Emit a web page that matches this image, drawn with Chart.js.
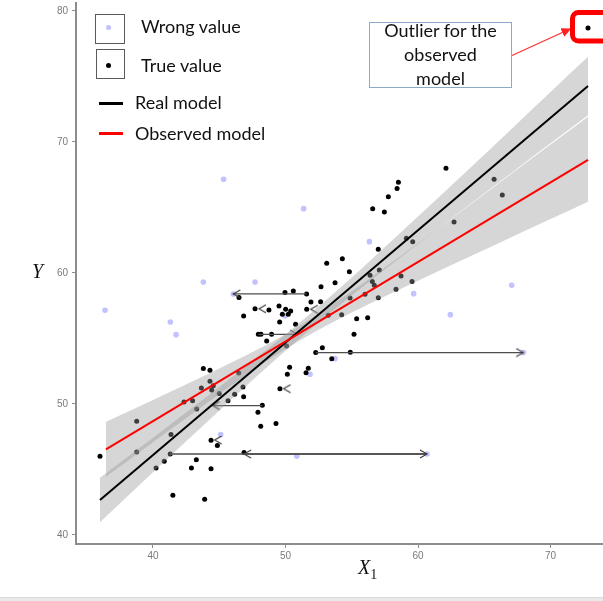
<!DOCTYPE html>
<html>
<head>
<meta charset="utf-8">
<script src="https://cdn.jsdelivr.net/npm/chart.js@4.4.1/dist/chart.umd.min.js"></script>
<style>
  html, body { margin: 0; padding: 0; background: #fff; overflow: hidden; }
  #wrap { position: relative; width: 603px; height: 601px; overflow: hidden; }
  #chart { position: absolute; left: 0; top: 0; }
  .txt { position: absolute; font-family: Lato, sans-serif; font-size: 18px; line-height: 18px; color: #111; white-space: nowrap; }
  .box { position: absolute; box-sizing: border-box; border: 1px solid #5a5a5a; background: #fff; }
  .dot { position: absolute; border-radius: 50%; }
  .swatch { position: absolute; height: 3px; width: 24px; left: 99px; }
  .math { position: absolute; font-family: "Liberation Serif", serif; font-style: italic; font-size: 20px; line-height: 20px; color: #111; }
  #note { position: absolute; left: 369px; top: 22px; width: 143px; height: 66px; box-sizing: border-box; border: 1px solid #8eaacb; background: #fff; }
  #noteText { position: absolute; left: 369px; top: 18px; width: 143px; text-align: center; font-family: Lato, sans-serif; font-size: 18px; line-height: 24px; color: #111; }
  #strip { position: absolute; left: 0; top: 597px; width: 603px; height: 4px; background: #e9e9e9; border-top: 1px solid #dadada; }
</style>
</head>
<body>
<div id="wrap">
  <canvas id="chart" width="603" height="601" style="width:603px;height:601px;"></canvas>

  <!-- legend -->
  <div class="box" style="left:95px;top:14px;width:30px;height:30px;"></div>
  <div class="dot" style="left:106px;top:25px;width:5px;height:5px;background:rgba(110,110,255,0.42);"></div>
  <div class="txt" style="left:141px;top:17px;">Wrong value</div>
  <div class="box" style="left:96px;top:49px;width:29px;height:30px;"></div>
  <div class="dot" style="left:106px;top:63px;width:5px;height:5px;background:#000;"></div>
  <div class="txt" style="left:141px;top:56px;">True value</div>
  <div class="swatch" style="top:102px;background:#000;"></div>
  <div class="txt" style="left:135px;top:93px;">Real model</div>
  <div class="swatch" style="top:132px;background:#ff0000;"></div>
  <div class="txt" style="left:135px;top:124px;">Observed model</div>

  <!-- outlier note -->
  <div id="note"></div>
  <div id="noteText">Outlier for the<br>observed<br>model</div>
  <svg width="603" height="601" style="position:absolute;left:0;top:0;pointer-events:none;">
    <defs>
      <marker id="head" markerWidth="8" markerHeight="8" refX="7" refY="4" orient="auto">
        <path d="M0,0 L8,4 L0,8 z" fill="#ff2020"/>
      </marker>
    </defs>
    <line x1="512" y1="55.5" x2="570" y2="29" stroke="#ff3030" stroke-width="1.2" marker-end="url(#head)"/>
    <rect x="572.5" y="12.5" width="45" height="28.5" rx="6" ry="6" fill="none" stroke="#ff0000" stroke-width="5"/>
  </svg>

  <!-- axis titles -->
  <div class="math" style="left:32px;top:261px;">Y</div>
  <div class="math" style="left:358px;top:557px;">X<span style="font-size:14px;font-style:normal;position:relative;top:5px;">1</span></div>

  <div id="strip"></div>
</div>

<script>
// True values (black points)
const trueX = [36.0, 38.77, 38.77, 40.23, 40.85, 41.36, 41.3, 41.5, 42.34, 42.99,
  43.3, 43.27, 42.9, 43.65, 43.8, 44.3, 44.3, 44.43, 44.55, 45.0,
  44.38, 44.86, 44.38, 43.9, 45.66, 46.79, 46.16, 46.84, 48.25, 47.92,
  48.13, 46.47, 46.87, 49.28, 49.58, 50.31, 50.14, 51.72, 51.55, 53.49,
  52.28, 54.89, 52.78, 55.17, 50.08, 48.58, 47.95, 48.15, 48.95, 50.76,
  49.56, 49.76, 50.21, 50.01, 50.39, 49.51, 48.75, 47.7, 51.6, 46.84,
  46.49, 49.96, 50.59, 51.59, 51.92, 53.23, 54.24, 55.37, 56.2, 52.65,
  54.87, 56.0, 57.0, 58.34, 52.68, 53.74, 56.38, 56.55, 56.7, 58.72,
  59.55, 54.82, 57.08, 53.11, 54.29, 57.0, 59.12, 59.6, 62.72, 56.58,
  57.46, 57.76, 58.42, 58.52, 62.11, 65.74, 66.36, 72.83];
const trueY = [46.0, 48.68, 46.34, 45.11, 45.62, 47.66, 46.18, 43.03, 50.15, 50.25,
  49.62, 45.75, 45.11, 51.22, 52.7, 52.57, 51.73, 51.07, 51.4, 50.8,
  47.23, 46.82, 45.06, 42.73, 50.25, 51.3, 50.74, 50.56, 49.9, 49.37,
  48.3, 52.37, 46.3, 48.5, 51.17, 52.8, 52.27, 52.72, 52.39, 53.46,
  53.92, 53.95, 54.3, 55.32, 54.43, 54.81, 55.32, 55.32, 55.32, 56.08,
  56.26, 56.85, 56.85, 57.23, 57.1, 57.48, 57.18, 57.27, 57.23, 56.72,
  58.12, 58.5, 58.63, 58.4, 57.79, 56.77, 56.82, 56.51, 56.59, 57.81,
  58.09, 58.37, 58.11, 58.75, 58.95, 59.26, 59.82, 59.34, 59.06, 59.77,
  59.34, 60.1, 60.23, 60.74, 61.09, 61.81, 62.65, 62.39, 63.89, 64.91,
  64.66, 65.82, 66.44, 66.92, 67.99, 67.15, 65.95, 78.7];

// Wrong values (light blue points)
const wrongX = [36.38, 41.31, 41.74, 43.8, 45.33, 47.7, 46.06, 49.96, 51.37, 56.33,
  59.67, 62.44, 67.07, 67.95, 53.74, 51.85, 45.11, 50.85, 60.68];
const wrongY = [57.15, 56.26, 55.29, 59.31, 67.15, 59.31, 58.4, 56.72, 64.91, 62.39,
  58.42, 56.82, 59.06, 53.92, 53.46, 52.27, 47.66, 46.01, 46.18];

// Horizontal arrows between true and wrong X
const arrowFromX = [51.59, 47.95, 48.25, 41.3, 60.68, 52.28];
const arrowToX = [46.06, 50.88, 44.5, 60.68, 46.87, 67.95];
const arrowY = [58.4, 55.32, 49.88, 46.18, 46.18, 53.92];

// Very short arrows (only the head is visible)
const nudgeX = [48.0, 51.9, 49.85, 44.65];
const nudgeY = [57.27, 57.23, 51.17, 47.25];

// Fitted lines
const realX = [36.0, 72.83];
const realY = [42.67, 74.27];
const obsX = [36.45, 72.83];
const obsY = [46.54, 68.63];

// Confidence bands
const realBandX = [36, 40, 44, 48, 51.67, 55, 59, 63, 67, 70, 72.83];
const realBandHi = [44.37, 47.43, 50.52, 53.68, 56.72, 59.66, 63.37, 67.14, 70.94, 73.81, 76.5];
const realBandLo = [40.97, 44.78, 48.55, 52.26, 55.52, 58.28, 61.45, 64.54, 67.6, 69.9, 72.04];
const obsBandX = [36.45, 40, 44, 48, 50.72, 54, 58, 62, 66, 70, 72.83];
const obsBandHi = [48.64, 50.31, 52.22, 54.22, 55.74, 57.91, 60.79, 63.76, 66.78, 69.8, 71.93];
const obsBandLo = [44.44, 47.07, 50.02, 52.88, 54.64, 56.47, 58.45, 60.36, 62.24, 64.12, 65.44];

const xTicks = [40, 50, 60, 70];
const yTicks = [40, 50, 60, 70, 80];

const pts = (xs, ys) => xs.map((x, i) => ({ x: x, y: ys[i] }));

// open arrow head "<", tip in the middle of the canvas
function makeChevron() {
    const c = document.createElement('canvas');
    c.width = 16;
    c.height = 10;
    const g = c.getContext('2d');
    g.strokeStyle = '#3a3a3a';
    g.lineWidth = 1.1;
    g.beginPath();
    g.moveTo(15, 1);
    g.lineTo(8, 5);
    g.lineTo(15, 9);
    g.stroke();
    return c;
}
const chevron = makeChevron();

const band = 'rgba(153,153,153,0.4)';

const arrowSets = arrowFromX.map((fx, i) => ({
    type: 'line',
    data: [{ x: fx, y: arrowY[i] }, { x: arrowToX[i], y: arrowY[i] }],
    borderColor: '#4d4d4d',
    borderWidth: 1.3,
    pointStyle: (ctx) => ctx.dataIndex === 1 ? chevron : 'circle',
    pointRadius: (ctx) => ctx.dataIndex === 1 ? 5 : 0,
    pointRotation: arrowToX[i] > fx ? 180 : 0,
    order: 40
}));

new Chart(document.getElementById('chart'), {
    type: 'scatter',
    data: {
        datasets: [
            { data: pts(wrongX, wrongY), backgroundColor: 'rgba(110,110,255,0.42)', borderWidth: 0, pointRadius: 2.8, order: 60 },
            { data: pts(trueX, trueY), backgroundColor: '#000', borderWidth: 0, pointRadius: 2.5, order: 50 },
            ...arrowSets,
            { data: pts(nudgeX, nudgeY), pointStyle: chevron, pointRadius: 5, order: 40 },
            { type: 'line', data: pts(realBandX, realBandHi), fill: '+1', backgroundColor: band, borderColor: 'rgba(0,0,0,0)', borderWidth: 0, pointRadius: 0, cubicInterpolationMode: 'monotone', order: 30 },
            { type: 'line', data: pts(realBandX, realBandLo), fill: false, borderColor: 'rgba(0,0,0,0)', borderWidth: 0, pointRadius: 0, cubicInterpolationMode: 'monotone', order: 30 },
            { type: 'line', data: pts(obsBandX, obsBandHi), fill: '+1', backgroundColor: band, borderColor: 'rgba(0,0,0,0)', borderWidth: 0, pointRadius: 0, cubicInterpolationMode: 'monotone', order: 30 },
            { type: 'line', data: pts(obsBandX, obsBandLo), fill: false, borderColor: 'rgba(0,0,0,0)', borderWidth: 0, pointRadius: 0, cubicInterpolationMode: 'monotone', order: 30 },
            { type: 'line', data: pts(obsX, obsY), borderColor: '#ff0000', borderWidth: 2, pointRadius: 0, order: 10 },
            { type: 'line', data: pts(realX, realY), borderColor: '#000', borderWidth: 2, pointRadius: 0, order: 10 }
        ]
    },
    options: {
        responsive: false,
        animation: false,
        events: [],
        layout: { autoPadding: false, padding: { top: 3, left: 0, right: 0, bottom: 0 } },
        plugins: { legend: { display: false }, tooltip: { enabled: false } },
        scales: {
            x: {
                type: 'linear',
                min: 34.19,
                max: 73.96,
                afterBuildTicks: (s) => { s.ticks = xTicks.map(v => ({ value: v })); },
                afterFit: (s) => { s.height = 57; s.paddingLeft = 0; s.paddingRight = 0; },
                grid: { drawOnChartArea: false, drawTicks: true, tickLength: 4, color: '#8c8c8c' },
                border: { color: '#8c8c8c', width: 2 },
                ticks: { font: { family: 'Liberation Sans', size: 10 }, color: '#7a7a7a', padding: 2 }
            },
            y: {
                type: 'linear',
                min: 39.31,
                max: 80.61,
                afterBuildTicks: (s) => { s.ticks = yTicks.map(v => ({ value: v })); },
                afterFit: (s) => { s.width = 76; s.paddingTop = 0; s.paddingBottom = 0; },
                grid: { drawOnChartArea: false, drawTicks: true, tickLength: 4, color: '#8c8c8c' },
                border: { color: '#8c8c8c', width: 2 },
                ticks: { font: { family: 'Liberation Sans', size: 10 }, color: '#7a7a7a', padding: 4 }
            }
        }
    }
});
</script>
</body>
</html>
